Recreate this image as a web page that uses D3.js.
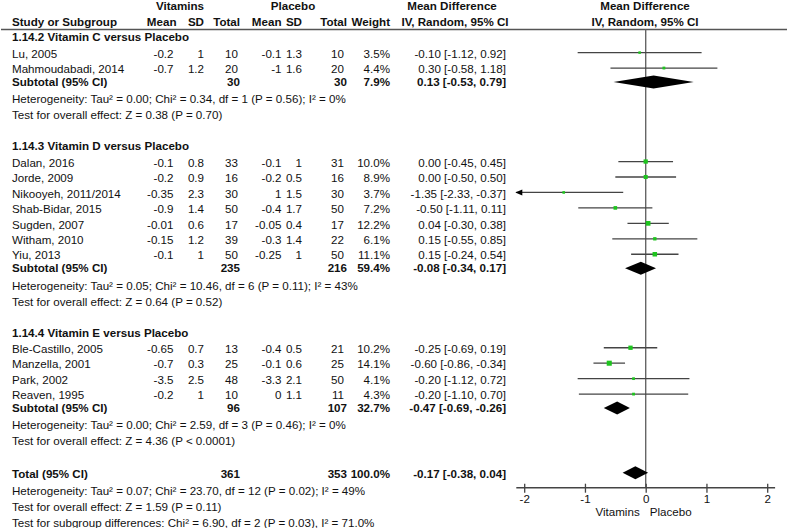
<!DOCTYPE html>
<html>
<head>
<meta charset="utf-8">
<script src="https://cdn.jsdelivr.net/npm/d3@7"></script>
<style>
  html, body { margin: 0; padding: 0; background: #fff; }
  svg text { font-family: "Liberation Sans", Arial, sans-serif; font-size: 11.6px; fill: #111; }
  .b { font-weight: bold; }
</style>
</head>
<body>
<svg id="chart" width="787" height="528"></svg>
<script>
// ---------------- DATA ----------------
const groupTitles = ["1.14.2 Vitamin C versus Placebo", "1.14.3 Vitamin D versus Placebo", "1.14.4 Vitamin E versus Placebo"];
const studyNames = ["Lu, 2005", "Mahmoudabadi, 2014", "Dalan, 2016", "Jorde, 2009", "Nikooyeh, 2011/2014", "Shab-Bidar, 2015", "Sugden, 2007", "Witham, 2010", "Yiu, 2013", "Ble-Castillo, 2005", "Manzella, 2001", "Park, 2002", "Reaven, 1995"];
const studyGroup = [0, 0, 1, 1, 1, 1, 1, 1, 1, 2, 2, 2, 2];
const vitMean = [-0.2, -0.7, -0.1, -0.2, -0.35, -0.9, -0.01, -0.15, -0.1, -0.65, -0.7, -3.5, -0.2];
const vitSD = [1, 1.2, 0.8, 0.9, 2.3, 1.4, 0.6, 1.2, 1, 0.7, 0.3, 2.5, 1];
const vitN = [10, 20, 33, 16, 30, 50, 17, 39, 50, 13, 25, 48, 10];
const plaMean = [-0.1, -1, -0.1, -0.2, 1, -0.4, -0.05, -0.3, -0.25, -0.4, -0.1, -3.3, 0];
const plaSD = [1.3, 1.6, 1, 0.5, 1.5, 1.7, 0.4, 1.4, 1, 0.5, 0.6, 2.1, 1.1];
const plaN = [10, 20, 31, 16, 30, 50, 17, 22, 50, 21, 25, 50, 11];
const weight = [3.5, 4.4, 10.0, 8.9, 3.7, 7.2, 12.2, 6.1, 11.1, 10.2, 14.1, 4.1, 4.3];
const md = [-0.10, 0.30, 0.00, 0.00, -1.35, -0.50, 0.04, 0.15, 0.15, -0.25, -0.60, -0.20, -0.20];
const ciLo = [-1.12, -0.58, -0.45, -0.50, -2.33, -1.11, -0.30, -0.55, -0.24, -0.69, -0.86, -1.12, -1.10];
const ciHi = [0.92, 1.18, 0.45, 0.50, -0.37, 0.11, 0.38, 0.85, 0.54, 0.19, -0.34, 0.72, 0.70];

const subVitN = [30, 235, 96];
const subPlaN = [30, 216, 107];
const subWeight = [7.9, 59.4, 32.7];
const subMD = [0.13, -0.08, -0.47];
const subLo = [-0.53, -0.34, -0.69];
const subHi = [0.79, 0.17, -0.26];
const subHet = [
  "Heterogeneity: Tau² = 0.00; Chi² = 0.34, df = 1 (P = 0.56); I² = 0%",
  "Heterogeneity: Tau² = 0.05; Chi² = 10.46, df = 6 (P = 0.11); I² = 43%",
  "Heterogeneity: Tau² = 0.00; Chi² = 2.59, df = 3 (P = 0.46); I² = 0%"
];
const subTest = [
  "Test for overall effect: Z = 0.38 (P = 0.70)",
  "Test for overall effect: Z = 0.64 (P = 0.52)",
  "Test for overall effect: Z = 4.36 (P < 0.0001)"
];
const totalVitN = 361, totalPlaN = 353, totalWeight = 100.0;
const totalMD = -0.17, totalLo = -0.38, totalHi = 0.04;
const totalNotes = [
  "Heterogeneity: Tau² = 0.07; Chi² = 23.70, df = 12 (P = 0.02); I² = 49%",
  "Test for overall effect: Z = 1.59 (P = 0.11)",
  "Test for subgroup differences: Chi² = 6.90, df = 2 (P = 0.03), I² = 71.0%"
];
const axisTicks = [-2, -1, 0, 1, 2];
const axisLabels = ["Vitamins", "Placebo"];

// ---------------- LAYOUT ----------------
const svg = d3.select("#chart");
const x = d3.scaleLinear().domain([-2, 2]).range([524.2, 767.2]);
const xMin = -2.13, xMax = 2.13;
const fmt = v => v.toFixed(2);
const ciText = (m, l, h) => `${fmt(m)} [${fmt(l)}, ${fmt(h)}]`;

const col = { name: 12, vMean: 173.5, vSD: 204, vN: 238, pMean: 281.5, pSD: 302, pN: 344, w: 390, ci: 506 };

function txt(xp, yp, s, anchor, bold) {
  return svg.append("text").attr("x", xp).attr("y", yp).attr("dy", "0.36em")
    .attr("text-anchor", anchor || "start").attr("class", bold ? "b" : null).text(s);
}

// header
txt(180, 6, "Vitamins", "middle", true);
txt(293, 6, "Placebo", "middle", true);
txt(452, 6, "Mean Difference", "middle", true);
txt(645, 6, "Mean Difference", "middle", true);
txt(col.name, 22, "Study or Subgroup", "start", true);
txt(176.5, 22, "Mean", "end", true);
txt(204, 22, "SD", "end", true);
txt(240, 22, "Total", "end", true);
txt(281.5, 22, "Mean", "end", true);
txt(302, 22, "SD", "end", true);
txt(347, 22, "Total", "end", true);
txt(390, 22, "Weight", "end", true);
txt(455, 22, "IV, Random, 95% CI", "middle", true);
txt(645, 22, "IV, Random, 95% CI", "middle", true);
svg.append("line").attr("x1", 1).attr("x2", 787).attr("y1", 29.5).attr("y2", 29.5)
  .attr("stroke", "#555").attr("stroke-width", 1.5);

const axisY = 487.7;
// zero line
svg.append("line").attr("x1", x(0)).attr("x2", x(0)).attr("y1", 29.5).attr("y2", axisY)
  .attr("stroke", "#666").attr("stroke-width", 1.4);

const plot = svg.append("g");

function diamond(yc, m, l, h) {
  const hh = 6.5;
  plot.append("path")
    .attr("d", `M${x(l)},${yc} L${x(m)},${yc - hh} L${x(h)},${yc} L${x(m)},${yc + hh} Z`)
    .attr("fill", "#000");
}

let y = 37.3;
groupTitles.forEach((title, g) => {
  txt(col.name, y, title, "start", true);
  let yy = y + 16.3;
  const idx = studyNames.map((_, i) => i).filter(i => studyGroup[i] === g);
  idx.forEach((i, k) => {
    const ys = yy + k * 15.45;
    txt(col.name, ys, studyNames[i]);
    txt(col.vMean, ys, String(vitMean[i]), "end");
    txt(col.vSD, ys, String(vitSD[i]), "end");
    txt(col.vN, ys, String(vitN[i]), "end");
    txt(col.pMean, ys, String(plaMean[i]), "end");
    txt(col.pSD, ys, String(plaSD[i]), "end");
    txt(col.pN, ys, String(plaN[i]), "end");
    txt(col.w, ys, weight[i].toFixed(1) + "%", "end");
    txt(col.ci, ys, ciText(md[i], ciLo[i], ciHi[i]), "end");
    const yl = ys - 1;
    const lo = Math.max(ciLo[i], xMin), hi = Math.min(ciHi[i], xMax);
    plot.append("line").attr("x1", x(lo)).attr("x2", x(hi)).attr("y1", yl).attr("y2", yl)
      .attr("stroke", "#444").attr("stroke-width", 1.3);
    if (ciLo[i] < xMin) {
      const ax = x(xMin);
      plot.append("path").attr("d", `M${ax - 1},${yl} L${ax + 6},${yl - 3} L${ax + 6},${yl + 3} Z`).attr("fill", "#000");
    }
    const s = 1.35 * Math.sqrt(weight[i]);
    plot.append("rect").attr("x", x(md[i]) - s / 2).attr("y", yl - s / 2)
      .attr("width", s).attr("height", s).attr("fill", "#1ec41e");
  });
  const ySub = yy + (idx.length - 1) * 15.45 + 13;
  txt(col.name, ySub, "Subtotal (95% CI)", "start", true);
  txt(240, ySub, String(subVitN[g]), "end", true);
  txt(347, ySub, String(subPlaN[g]), "end", true);
  txt(col.w, ySub, subWeight[g].toFixed(1) + "%", "end", true);
  txt(col.ci, ySub, ciText(subMD[g], subLo[g], subHi[g]), "end", true);
  diamond(ySub, subMD[g], subLo[g], subHi[g]);
  const yHet = ySub + 17.2;
  txt(col.name, yHet, subHet[g]);
  const yTest = yHet + 16;
  txt(col.name, yTest, subTest[g]);
  y = yTest + (g < groupTitles.length - 1 ? 31 : 32.5);
});

// total
txt(col.name, y, "Total (95% CI)", "start", true);
txt(240, y, String(totalVitN), "end", true);
txt(347, y, String(totalPlaN), "end", true);
txt(col.w, y, totalWeight.toFixed(1) + "%", "end", true);
txt(col.ci, y, ciText(totalMD, totalLo, totalHi), "end", true);
diamond(y - 1, totalMD, totalLo, totalHi);
totalNotes.forEach((s, k) => txt(col.name, y + 17.5 + k * 15.7, s));

// axis
const axisG = svg.append("g").attr("transform", `translate(0,${axisY})`)
  .call(d3.axisBottom(x).tickValues(axisTicks).tickFormat(d => String(d)).tickSize(5).tickPadding(2));
axisG.select(".domain").remove();
axisG.selectAll(".tick line").attr("y1", -4).attr("stroke", "#444").attr("stroke-width", 1.3);
axisG.selectAll(".tick text").style("font-family", "Liberation Sans, Arial, sans-serif").style("font-size", "11.6px").attr("fill", "#111");
axisG.append("line").attr("x1", x(xMin)).attr("x2", x(xMax)).attr("y1", 0).attr("y2", 0)
  .attr("stroke", "#444").attr("stroke-width", 1.4);
txt(x(0) - 6, 512, axisLabels[0], "end");
txt(x(0) + 4, 512, axisLabels[1], "start");
</script>
</body>
</html>
